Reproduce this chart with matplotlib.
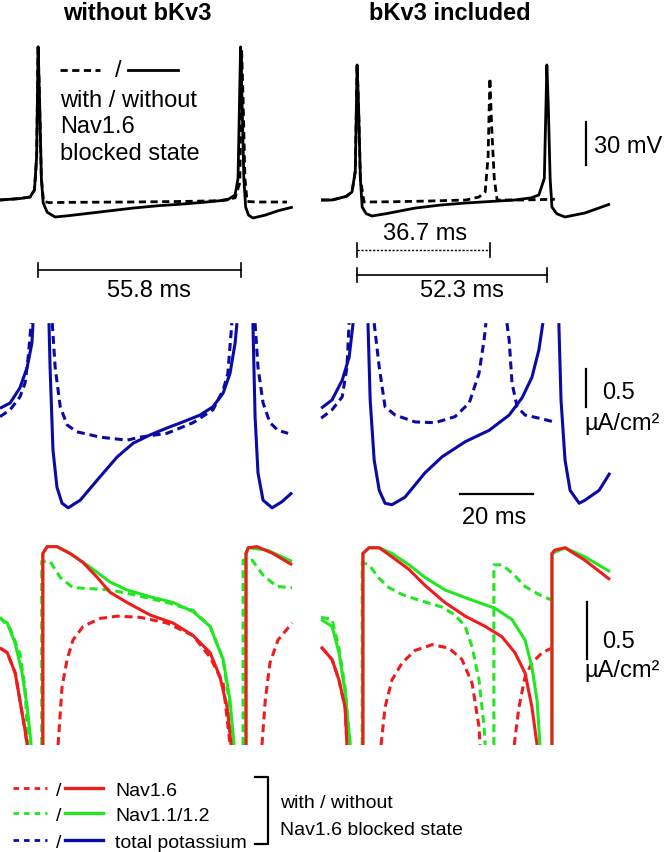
import numpy as np
import matplotlib.pyplot as plt
from matplotlib.lines import Line2D
from matplotlib.transforms import blended_transform_factory

plt.rcParams['font.family'] = ['Liberation Sans', 'DejaVu Sans']

nan = np.nan

# ---------------- data ----------------
# membrane potential, (time ms, mV); time 0 = first spike
v_left_solid = [(-10.5, -60.0), (-5.0, -59.0), (-2.2, -57.9), (-1.0, -53.0), (-0.4, -30.0), (0.0, 46.3),
                (0.4, 10.0), (0.9, -45.0), (1.4, -62.0), (2.5, -68.5), (4.7, -71.8), (8.0, -71.0),
                (12.4, -69.7), (19.8, -67.5), (26.2, -65.6), (33.0, -64.0), (39.9, -62.8), (46.0, -61.5),
                (52.1, -60.0), (54.3, -56.5), (55.1, -45.0), (55.8, 46.3), (56.2, 10.0), (56.7, -45.0),
                (57.2, -64.9), (58.0, -70.5), (59.2, -72.5), (62.6, -70.5), (66.1, -67.5), (70.2, -64.9)]
v_left_dashed = [(-10.5, -60.0), (-5.0, -59.0), (-2.2, -57.9), (-1.0, -53.0), (-0.4, -30.0), (0.0, 46.3),
                 (0.4, 10.0), (0.9, -45.0), (1.5, -61.0), (3.0, -61.8), (10.0, -61.6), (25.0, -61.4),
                 (40.0, -61.0), (50.0, -60.5), (54.3, -58.5), (55.6, -48.0), (56.1, 44.0), (56.5, 10.0),
                 (57.0, -45.0), (57.6, -61.0), (60.0, -61.4), (68.6, -61.4)]
v_right_solid = [(-9.9, -60.0), (-6.9, -60.0), (-3.0, -57.5), (-1.4, -54.4), (-0.5, -40.0), (0.0, 33.8),
                 (0.4, 5.0), (0.9, -45.0), (1.4, -64.9), (2.5, -69.5), (4.1, -71.1), (8.0, -69.5),
                 (16.0, -65.6), (23.0, -63.5), (29.8, -62.1), (37.0, -61.0), (43.5, -60.0), (48.0, -58.5),
                 (50.1, -56.5), (51.6, -45.0), (52.3, 33.8), (52.7, 5.0), (53.2, -45.0), (53.7, -64.9),
                 (55.0, -69.5), (57.3, -71.8), (62.8, -69.0), (69.7, -62.8)]
v_right_dashed = [(-9.9, -60.0), (-6.9, -60.0), (-3.0, -57.5), (-1.4, -54.4), (-0.5, -40.0), (0.0, 33.8),
                  (0.4, 5.0), (0.9, -45.0), (1.9, -61.4), (10.0, -61.2), (20.0, -60.7), (30.0, -60.0),
                  (33.6, -57.9), (35.3, -54.4), (36.1, -30.0), (36.6, 24.7), (37.1, -10.0), (37.8, -45.0),
                  (38.6, -60.0), (45.0, -60.0), (54.5, -59.5)]

# total potassium current, (time ms, uA/cm2)
k_left_solid = [(-10.5, 1.47), (-7.7, 1.54), (-5.0, 1.74), (-3.0, 2.01), (-1.7, 2.33), (-1.4, 2.59), (nan, nan),
                (3.0, 2.59), (3.3, 2.01), (4.1, 0.92), (5.2, 0.43), (6.6, 0.22), (8.3, 0.16), (11.6, 0.26),
                (17.1, 0.57), (21.8, 0.83), (26.2, 1.01), (30.9, 1.12), (35.5, 1.21), (39.9, 1.29),
                (44.6, 1.38), (48.2, 1.49), (51.0, 1.67), (52.9, 1.93), (54.3, 2.33), (54.8, 2.59), (nan, nan),
                (59.2, 2.59), (59.8, 1.36), (60.6, 0.62), (62.0, 0.26), (64.5, 0.16), (67.2, 0.24), (70.0, 0.36)]
k_left_dashed = [(-10.5, 1.36), (-7.7, 1.45), (-5.0, 1.62), (-3.6, 1.80), (-2.8, 2.11), (-1.9, 2.59), (nan, nan),
                 (3.9, 2.59), (4.7, 2.01), (6.1, 1.49), (8.0, 1.25), (10.7, 1.16), (17.1, 1.09), (24.5, 1.05),
                 (28.1, 1.09), (35.5, 1.14), (42.7, 1.28), (48.2, 1.45), (51.0, 1.71), (52.3, 1.93),
                 (53.4, 2.59), (nan, nan), (59.8, 2.59), (60.6, 2.01), (62.0, 1.54), (63.9, 1.28),
                 (66.1, 1.18), (68.9, 1.14)]
k_right_solid = [(-9.9, 1.47), (-6.9, 1.58), (-4.1, 1.84), (-2.2, 2.14), (-1.1, 2.59), (nan, nan),
                 (3.0, 2.59), (3.6, 1.58), (4.7, 0.79), (6.1, 0.39), (7.7, 0.22), (9.6, 0.20), (13.2, 0.30),
                 (18.7, 0.62), (23.4, 0.83), (29.8, 1.03), (36.4, 1.18), (41.9, 1.38), (45.5, 1.61),
                 (48.2, 1.88), (50.1, 2.24), (51.2, 2.59), (nan, nan), (55.6, 2.59), (56.2, 1.58),
                 (57.3, 0.79), (58.7, 0.39), (61.2, 0.22), (62.8, 0.26), (66.7, 0.39), (69.7, 0.62)]
k_right_dashed = [(-9.9, 1.34), (-6.9, 1.45), (-4.1, 1.62), (-2.8, 2.01), (-2.2, 2.59), (nan, nan),
                  (4.7, 2.59), (6.1, 2.01), (7.7, 1.49), (10.5, 1.38), (16.0, 1.29), (21.5, 1.28),
                  (27.0, 1.36), (30.9, 1.54), (33.6, 1.93), (35.0, 2.37), (35.5, 2.59), (nan, nan),
                  (41.3, 2.59), (41.9, 2.37), (42.7, 1.80), (44.1, 1.49), (46.3, 1.38), (50.1, 1.34), (54.3, 1.29)]

# sodium currents, (time ms, uA/cm2 above clip level)
na16_left_solid = [(-10.5, 0.85), (-8.5, 0.81), (-6.3, 0.63), (-5.0, 0.39), (-3.6, 0.13), (-3.0, 0.0), (nan, nan),
                   (1.3, 0.0), (1.3, 1.68), (2.5, 1.74), (5.2, 1.74), (8.8, 1.68), (12.4, 1.60), (16.3, 1.47),
                   (19.8, 1.34), (24.5, 1.25), (30.9, 1.14), (37.2, 1.07), (42.7, 0.96), (47.4, 0.81),
                   (50.1, 0.60), (52.1, 0.33), (53.2, 0.0), (nan, nan), (57.3, 0.0), (57.3, 1.68),
                   (57.9, 1.73), (60.3, 1.74), (64.7, 1.68), (70.0, 1.58)]
na16_left_dashed = [(-10.5, 0.85), (-8.5, 0.81), (-6.3, 0.63), (-5.0, 0.39), (-3.6, 0.13), (-3.0, 0.0), (nan, nan),
                    (5.5, 0.0), (6.6, 0.51), (8.0, 0.75), (9.6, 0.92), (12.4, 1.04), (17.1, 1.11), (21.8, 1.13),
                    (28.1, 1.12), (35.5, 1.07), (42.7, 0.96), (47.4, 0.77), (51.0, 0.54), (52.9, 0.0), (nan, nan),
                    (61.7, 0.0), (62.6, 0.39), (63.9, 0.72), (66.1, 0.92), (70.0, 1.07)]
na12_left_solid = [(-10.5, 1.11), (-8.5, 1.07), (-6.3, 0.89), (-4.4, 0.63), (-3.0, 0.33), (-1.9, 0.0), (nan, nan),
                   (1.3, 0.0), (1.3, 1.68), (2.5, 1.74), (5.2, 1.74), (8.8, 1.68), (10.7, 1.64), (15.2, 1.54),
                   (19.8, 1.43), (24.5, 1.36), (30.9, 1.30), (37.2, 1.25), (42.7, 1.17), (47.4, 1.04),
                   (51.0, 0.75), (52.9, 0.39), (54.0, 0.0), (nan, nan), (57.3, 0.0), (57.3, 1.68),
                   (57.9, 1.73), (63.1, 1.71), (70.0, 1.61)]
na12_left_dashed = [(-10.5, 1.12), (-7.7, 1.02), (-5.0, 0.80), (-3.6, 0.50), (-2.8, 0.0), (nan, nan),
                    (1.0, 0.0), (1.0, 1.61), (3.3, 1.61), (6.1, 1.47), (9.6, 1.38), (15.2, 1.37), (19.8, 1.36),
                    (26.2, 1.32), (35.5, 1.25), (42.7, 1.18), (47.4, 1.04), (51.0, 0.75), (52.9, 0.33),
                    (53.7, 0.0), (nan, nan), (56.5, 0.0), (56.5, 1.62), (59.0, 1.62), (62.0, 1.49),
                    (65.8, 1.39), (70.0, 1.38)]
na16_right_solid = [(-9.9, 0.86), (-6.9, 0.75), (-5.0, 0.57), (-3.3, 0.33), (-2.8, 0.0), (nan, nan),
                    (1.6, 0.0), (1.6, 1.68), (3.3, 1.73), (6.1, 1.73), (9.6, 1.65), (14.3, 1.54), (18.7, 1.40),
                    (24.2, 1.25), (29.8, 1.13), (35.3, 1.04), (39.9, 0.95), (43.5, 0.81), (46.3, 0.63),
                    (48.2, 0.33), (49.6, 0.0), (nan, nan), (53.7, 0.0), (53.7, 1.68), (54.5, 1.71),
                    (57.3, 1.73), (62.8, 1.62), (69.7, 1.45)]
na16_right_dashed = [(-9.9, 0.86), (-6.9, 0.75), (-5.0, 0.57), (-3.3, 0.33), (-2.8, 0.0), (nan, nan),
                     (6.6, 0.0), (7.7, 0.33), (9.6, 0.57), (12.4, 0.72), (16.0, 0.83), (20.7, 0.88),
                     (25.3, 0.85), (28.9, 0.75), (31.7, 0.54), (33.6, 0.16), (33.9, 0.0), (nan, nan),
                     (43.3, 0.0), (44.6, 0.33), (46.3, 0.60), (48.2, 0.72), (51.0, 0.81), (54.3, 0.86)]
na12_right_solid = [(-9.9, 1.10), (-6.9, 1.04), (-5.0, 0.81), (-3.3, 0.46), (-1.9, 0.0), (nan, nan),
                    (1.6, 0.0), (1.6, 1.68), (3.3, 1.73), (6.1, 1.73), (9.6, 1.68), (14.3, 1.58), (18.7, 1.47),
                    (24.2, 1.36), (31.7, 1.27), (38.0, 1.20), (42.7, 1.10), (46.3, 0.92), (48.2, 0.68),
                    (49.6, 0.39), (50.4, 0.0), (nan, nan), (53.7, 0.0), (53.7, 1.68), (57.3, 1.73),
                    (62.8, 1.65), (69.7, 1.52)]
na12_right_dashed = [(-9.9, 1.12), (-6.9, 1.10), (-5.0, 0.85), (-3.3, 0.50), (-1.9, 0.0), (nan, nan),
                     (1.4, 0.0), (1.4, 1.60), (3.3, 1.58), (6.1, 1.46), (8.8, 1.38), (12.4, 1.32), (17.1, 1.27),
                     (23.4, 1.21), (27.0, 1.14), (29.8, 1.04), (31.7, 0.86), (33.6, 0.57), (35.0, 0.16),
                     (35.3, 0.0), (nan, nan), (37.7, 0.0), (37.7, 1.58), (39.9, 1.58), (42.7, 1.51),
                     (46.3, 1.39), (50.1, 1.32), (53.7, 1.27)]

# interspike intervals (ms) and scale bars
isi_left = 55.8
isi_right = 52.3
isi_right_blocked = 36.7
bar_mv = 30
bar_current = 0.5
bar_ms = 20

legend_labels = ['Nav1.6', 'Nav1.1/1.2', 'total potassium']

RED, GREEN, BLUE = '#ee1c1c', '#22e622', '#0a0aa5'
DASH = (2.6, 1.6)

# ---------------- layout (pixels) ----------------
W, H = 664, 852
fig = plt.figure(figsize=(W / 100, H / 100), dpi=100)


def make_ax(x0, y0, y1, ylim):
    ax = fig.add_axes([x0 / W, 1 - y1 / H, 332 / W, (y1 - y0) / H])
    ax.set_xlim(-10.5, 81.0)
    ax.set_ylim(*ylim)
    ax.axis('off')
    return ax


def ftext(x, y, s, **kw):
    kw.setdefault('fontsize', 17)
    fig.text(x / W, 1 - y / H, s, **kw)


def fline(xs, ys, **kw):
    fig.add_artist(Line2D([x / W for x in xs], [1 - y / H for y in ys], **kw))


def trace(ax, pts, color, dashed=False, lw=2.2):
    t, y = np.array(pts).T
    if dashed:
        ax.plot(t, y, color=color, lw=lw, dashes=DASH)
    else:
        ax.plot(t, y, color=color, lw=lw, solid_capstyle='butt')


cols = [0, 319]
ax_v = [make_ax(c, 30, 245, (-91.25, 58.06)) for c in cols]
ax_k = [make_ax(c, 323, 530, (-0.132, 2.592)) for c in cols]
ax_na = [make_ax(c, 540, 745, (0.0, 1.798)) for c in cols]

# row 1: voltage
trace(ax_v[0], v_left_dashed, 'k', True, 2.0)
trace(ax_v[0], v_left_solid, 'k', False, 2.0)
trace(ax_v[1], v_right_dashed, 'k', True, 2.0)
trace(ax_v[1], v_right_solid, 'k', False, 2.0)

# row 2: potassium
trace(ax_k[0], k_left_dashed, BLUE, True)
trace(ax_k[0], k_left_solid, BLUE)
trace(ax_k[1], k_right_dashed, BLUE, True)
trace(ax_k[1], k_right_solid, BLUE)

# row 3: sodium
trace(ax_na[0], na12_left_dashed, GREEN, True)
trace(ax_na[0], na16_left_dashed, RED, True)
trace(ax_na[0], na12_left_solid, GREEN)
trace(ax_na[0], na16_left_solid, RED)
trace(ax_na[1], na12_right_dashed, GREEN, True)
trace(ax_na[1], na16_right_dashed, RED, True)
trace(ax_na[1], na12_right_solid, GREEN)
trace(ax_na[1], na16_right_solid, RED)

# vertical scale bars
ax_v[1].plot([63.1, 63.1], [-35.7, -35.7 + bar_mv], color='k', lw=1.6)
ax_k[1].plot([63.1, 63.1], [1.49, 1.49 + bar_current], color='k', lw=1.6)
ax_na[1].plot([63.4, 63.4], [0.75, 0.75 + bar_current], color='k', lw=1.6)
ax_k[1].plot([28.4, 28.4 + bar_ms], [0.34, 0.34], color='k', lw=1.6)


# interval bars under the voltage traces
def interval(ax, length, y_px, **kw):
    tr = blended_transform_factory(ax.transData, fig.transFigure)
    yf = 1 - y_px / H
    tk = 7 / H
    ax.plot([0, length], [yf, yf], transform=tr, clip_on=False, color='k', **kw)
    for t in (0, length):
        ax.plot([t, t], [yf - tk, yf + tk], transform=tr, clip_on=False, color='k', lw=1.2)


interval(ax_v[0], isi_left, 270, lw=1.2)
interval(ax_v[1], isi_right_blocked, 250, lw=1.0, dashes=(1.6, 1.2))
interval(ax_v[1], isi_right, 275, lw=1.2)

# texts
ftext(137, 13, 'without bKv3', ha='center', va='center', fontweight='bold')
ftext(450, 13, 'bKv3 included', ha='center', va='center', fontweight='bold')

fline([60, 100], [70, 70], color='k', lw=2.0, dashes=DASH)
ftext(115, 77, '/', ha='left', va='baseline')
fline([128, 178], [70, 70], color='k', lw=2.0)
ftext(60, 107, 'with / without', va='baseline')
ftext(60, 133, 'Nav1.6', va='baseline')
ftext(60, 160, 'blocked state', va='baseline')

ftext(149, 297, f'{isi_left} ms', ha='center', va='baseline')
ftext(425, 240, f'{isi_right_blocked} ms', ha='center', va='baseline')
ftext(462, 297, f'{isi_right} ms', ha='center', va='baseline')

ftext(594, 153, f'{bar_mv} mV', va='baseline')
ftext(602, 399, f'{bar_current}', va='baseline')
ftext(584, 430, 'µA/cm²', va='baseline')
ftext(494, 524, f'{bar_ms} ms', ha='center', va='baseline')
ftext(602, 648, f'{bar_current}', va='baseline')
ftext(584, 677, 'µA/cm²', va='baseline')

# bottom legend
for (label, color), y in zip(zip(legend_labels, [RED, GREEN, BLUE]), [788, 813, 840]):
    fline([13, 47], [y, y], color=color, lw=2.0, dashes=(2.0, 1.8))
    ftext(56, y + 8, '/', va='baseline', fontsize=14)
    fline([65, 103], [y, y], color=color, lw=2.4)
    ftext(115, y + 8, label, va='baseline', fontsize=14)

fline([255, 268, 268, 255], [777, 777, 844, 844], color='k', lw=1.6)
ftext(280, 808, 'with / without', va='baseline', fontsize=14)
ftext(280, 835, 'Nav1.6 blocked state', va='baseline', fontsize=14)

fig.savefig('out.png', dpi=100, facecolor='white')
